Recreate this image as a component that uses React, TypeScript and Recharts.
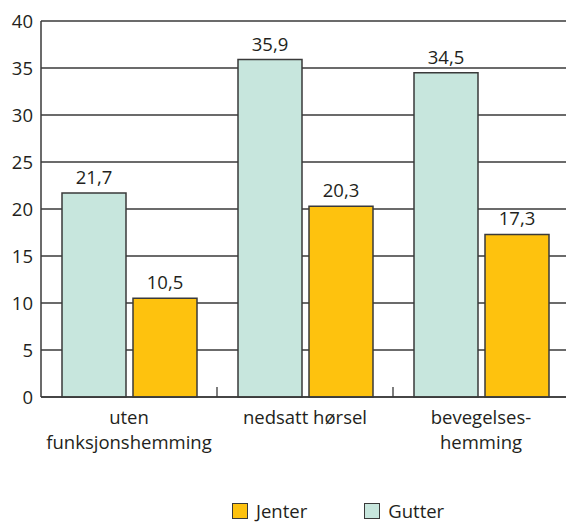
import { BarChart, Bar, XAxis, YAxis, CartesianGrid, LabelList } from 'recharts'

const categories = ['uten funksjonshemming', 'nedsatt hørsel', 'bevegelses- hemming']
const categoryLines = [['uten', 'funksjonshemming'], ['nedsatt hørsel'], ['bevegelses-', 'hemming']]
const gutter = [21.7, 35.9, 34.5]
const jenter = [10.5, 20.3, 17.3]
const yTicks = [0, 5, 10, 15, 20, 25, 30, 35, 40]

const GUTTER_COLOR = '#c7e6dd'
const JENTER_COLOR = '#fec20e'
const INK = '#231f20'
const LINE = '#3a3a3a'
const FONT = '"Open Sans", sans-serif'
const FS = 18.5

const data = categories.map((c, i) => ({ category: c, Gutter: gutter[i], Jenter: jenter[i] }))

const fmt = (v: any) => Number(v).toFixed(1).replace('.', ',')

// kategori-etikett på flere linjer + lite skillestrek mellom gruppene
function CategoryTick(props: any) {
    const { x, y, payload, index } = props
    const lines = categoryLines[index] || [payload.value]
    const half = payload.offset || 88
    return (
        <g>
            {index > 0 && (
                <line x1={x - half} x2={x - half} y1={y - 8} y2={y - 18} stroke={LINE} strokeWidth={1.3} />
            )}
            <text x={x} y={y} textAnchor="middle" fill={INK} fontSize={FS} fontFamily={FONT}>
                {lines.map((l: string, i: number) => (
                    <tspan key={i} x={x} dy={i === 0 ? 19 : 25}>{l}</tspan>
                ))}
            </text>
        </g>
    )
}

export default function App() {
    return (
        <div style={{ position: 'absolute', left: 0, top: 0, width: 566, height: 523, overflow: 'hidden', background: '#fff' }}>
            <BarChart
                width={569}
                height={523}
                data={data}
                margin={{ top: 21, right: 0, bottom: 66, left: 0 }}
                barCategoryGap={21}
                barGap={7}
            >
                <CartesianGrid vertical={false} stroke={LINE} strokeWidth={1.3} />
                <XAxis
                    dataKey="category"
                    height={60}
                    tickLine={false}
                    tickSize={0}
                    axisLine={{ stroke: LINE, strokeWidth: 1.5 }}
                    tick={<CategoryTick />}
                    interval={0}
                    tickMargin={8}
                />
                <YAxis
                    width={41}
                    domain={[0, 40]}
                    ticks={yTicks}
                    tickLine={false}
                    tickSize={0}
                    axisLine={{ stroke: LINE, strokeWidth: 1.5 }}
                    tickMargin={8}
                    tick={{ fill: INK, fontSize: FS, fontFamily: FONT }}
                />
                <Bar dataKey="Gutter" fill={GUTTER_COLOR} stroke={LINE} strokeWidth={1.5} isAnimationActive={false}>
                    <LabelList dataKey="Gutter" position="top" offset={9} formatter={fmt} fill={INK} fontSize={FS} fontFamily={FONT} />
                </Bar>
                <Bar dataKey="Jenter" fill={JENTER_COLOR} stroke={LINE} strokeWidth={1.5} isAnimationActive={false}>
                    <LabelList dataKey="Jenter" position="top" offset={9} formatter={fmt} fill={INK} fontSize={FS} fontFamily={FONT} />
                </Bar>
            </BarChart>
            <div style={{ position: 'absolute', top: 500, left: 232, display: 'flex', alignItems: 'center', fontFamily: FONT, fontSize: FS, lineHeight: '22px', color: INK }}>
                <span style={{ width: 14, height: 14, background: JENTER_COLOR, border: `1px solid ${LINE}`, marginRight: 8 }} />
                <span style={{ marginRight: 57 }}>Jenter</span>
                <span style={{ width: 14, height: 14, background: GUTTER_COLOR, border: `1px solid ${LINE}`, marginRight: 8 }} />
                <span>Gutter</span>
            </div>
        </div>
    )
}
